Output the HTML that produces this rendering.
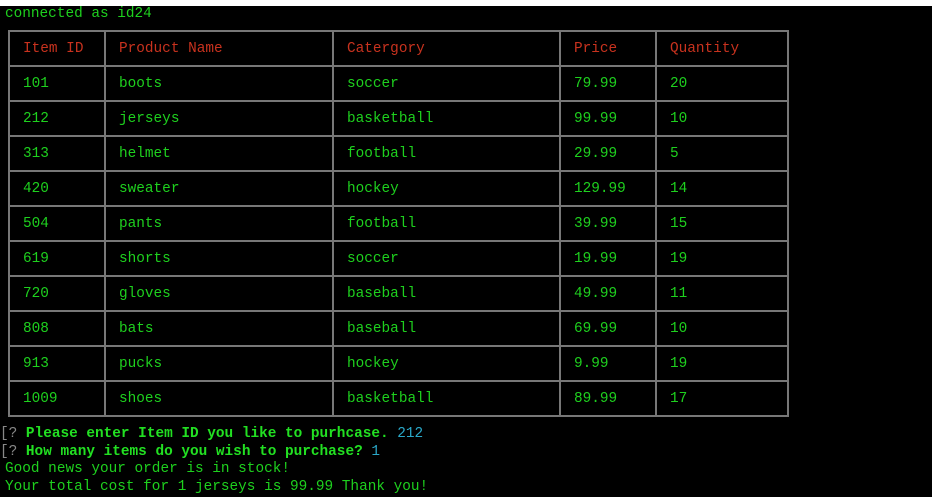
<!DOCTYPE html>
<html><head><meta charset="utf-8"><style>
html,body{margin:0;padding:0;background:#fff;width:934px;height:500px;overflow:hidden}
#term{position:absolute;left:0;top:6px;width:932px;height:491px;background:#000;font-family:"Liberation Mono",monospace;font-size:14.4px;color:#1ed01e}
.l{position:absolute;white-space:pre;line-height:16px}
.h{position:absolute;left:8px;width:780px;height:2px;background:#777}
.v{position:absolute;top:24px;width:2px;height:387px;background:#777}
.t{position:absolute;white-space:pre;line-height:16px;color:#1ed01e}
.r{color:#c8321e}
.b{font-weight:bold;color:#22e022}.q{color:#888}.c{color:#2aa8c8}
</style></head><body>
<div id="term">
<div class="l" style="left:5px;top:0px">connected as id24</div>
<div id="tbl"></div>
<div class="l" style="left:0;top:420px"><span class="q">[? </span><span class="b">Please enter Item ID you like to purhcase.</span> <span class="c">212</span></div>
<div class="l" style="left:0;top:438px"><span class="q">[? </span><span class="b">How many items do you wish to purchase?</span> <span class="c">1</span></div>
<div class="l" style="left:5px;top:455px">Good news your order is in stock!</div>
<div class="l" style="left:5px;top:473px">Your total cost for 1 jerseys is 99.99 Thank you!</div>
</div>
<script>
const headers=["Item ID","Product Name","Catergory","Price","Quantity"];
const rows=[["101","boots","soccer","79.99","20"],["212","jerseys","basketball","99.99","10"],["313","helmet","football","29.99","5"],["420","sweater","hockey","129.99","14"],["504","pants","football","39.99","15"],["619","shorts","soccer","19.99","19"],["720","gloves","baseball","49.99","11"],["808","bats","baseball","69.99","10"],["913","pucks","hockey","9.99","19"],["1009","shoes","basketball","89.99","17"]];
const tbl=document.getElementById('tbl');
const colX=[8,104,332,559,655,787];
const top0=24,rowH=35;
for(let k=0;k<=rows.length+1;k++){const d=document.createElement('div');d.className='h';d.style.top=(top0+k*rowH)+'px';


tbl.appendChild(d);}
colX.forEach(x=>{const d=document.createElement('div');d.className='v';d.style.left=x+'px';


tbl.appendChild(d);});
function cell(txt,ci,ri,red){const d=document.createElement('div');d.className='t'+(red?' r':'');d.textContent=txt;
d.style.left=(colX[ci]+15)+'px';d.style.top=(top0+ri*rowH+11)+'px';


tbl.appendChild(d);}
headers.forEach((h,i)=>cell(h,i,0,true));
rows.forEach((r,ri)=>r.forEach((v,ci)=>cell(v,ci,ri+1,false)));
</script>
</body></html>
